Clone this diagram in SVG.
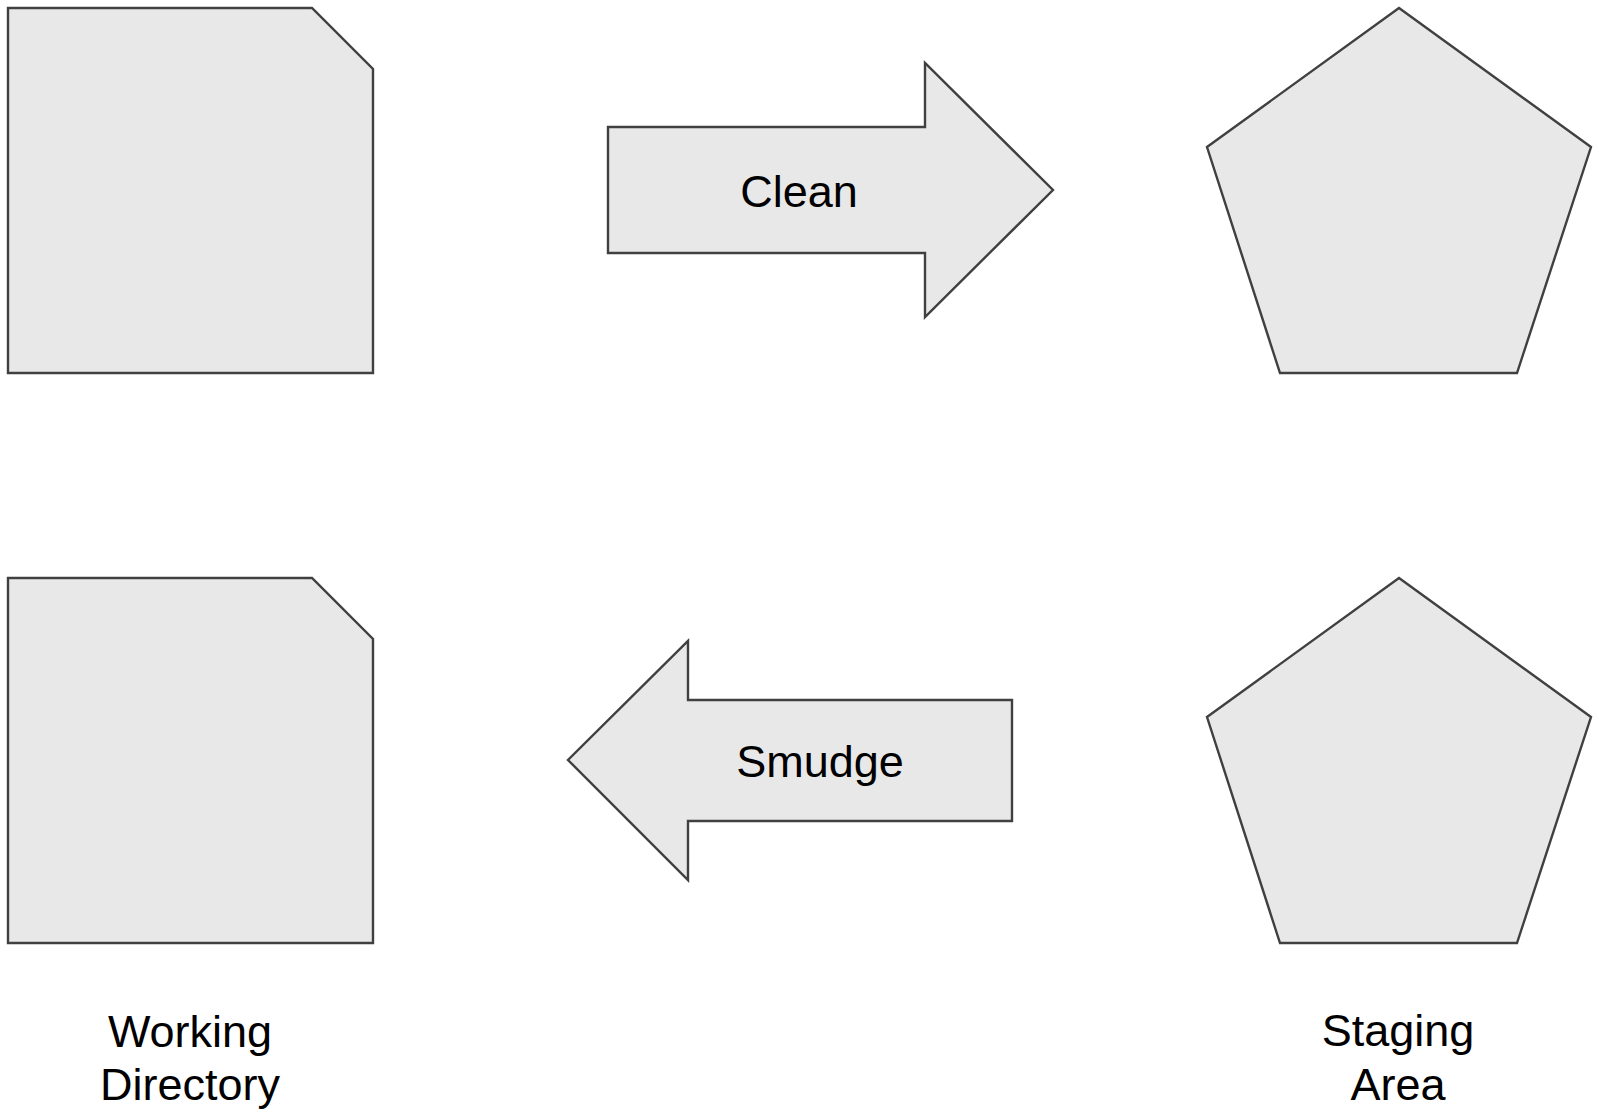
<svg xmlns="http://www.w3.org/2000/svg" width="1599" height="1118" viewBox="0 0 1599 1118">
<style>
.shape{fill:#e8e8e8;stroke:#404040;stroke-width:2.4;stroke-linejoin:miter}
.lbl{font-family:"Liberation Sans",Arial,sans-serif;font-size:45px;fill:#000;text-anchor:middle}
</style>
<rect width="1599" height="1118" fill="#fff"/>
<g id="wd-top">
<polygon class="shape" points="8,8 312,8 373,69 373,373 8,373"/>
</g>
<g id="sa-top">
<polygon class="shape" points="1399,8 1591,147 1517,373 1280,373 1207,147"/>
</g>
<g id="wd-bottom">
<polygon class="shape" points="8,578 312,578 373,639 373,943 8,943"/>
</g>
<g id="sa-bottom">
<polygon class="shape" points="1399,578 1591,717 1517,943 1280,943 1207,717"/>
</g>
<g id="connectors">
<g id="clean">
<polygon class="shape" points="608,127 925,127 925,63 1053,190 925,317 925,253 608,253"/>
<text class="lbl" x="799" y="207">Clean</text>
</g>
<g id="smudge">
<polygon class="shape" points="1012,700 688,700 688,641 568,760 688,880 688,821 1012,821"/>
<text class="lbl" x="820" y="777">Smudge</text>
</g>
</g>
<g id="labels">
<text class="lbl" x="190" y="1047">Working</text>
<text class="lbl" x="190" y="1100">Directory</text>
<text class="lbl" x="1398" y="1046">Staging</text>
<text class="lbl" x="1398" y="1100">Area</text>
</g>
</svg>
